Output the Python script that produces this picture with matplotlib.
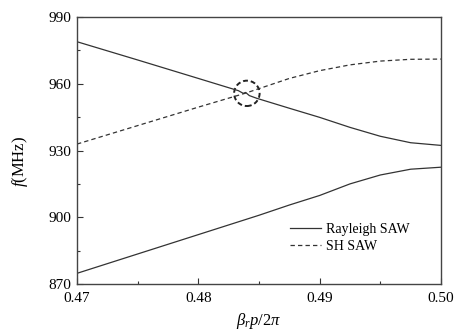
import matplotlib
matplotlib.use("Agg")
import matplotlib.pyplot as plt
from matplotlib.patches import Ellipse
from matplotlib.ticker import MultipleLocator

plt.rcParams['font.family'] = ['Liberation Serif', 'DejaVu Serif']
plt.rcParams['mathtext.fontset'] = 'custom'
plt.rcParams['mathtext.rm'] = 'Liberation Serif'
plt.rcParams['mathtext.it'] = 'Liberation Serif:italic'

# Rayleigh SAW, upper branch
ray_up_x = [0.470, 0.475, 0.480, 0.4833, 0.4835, 0.4837, 0.4839, 0.4842, 0.4848,
            0.4875, 0.490, 0.4925, 0.495, 0.4975, 0.500]
ray_up_f = [978.9, 970.7, 962.4, 956.9, 956.3, 955.7, 956.1, 954.7, 953.5,
            949.0, 944.9, 940.4, 936.4, 933.5, 932.3]
# Rayleigh SAW, lower branch
ray_lo_x = [0.470, 0.475, 0.480, 0.485, 0.4875, 0.490, 0.4925, 0.495, 0.4975, 0.500]
ray_lo_f = [874.8, 883.5, 892.2, 900.9, 905.5, 909.8, 915.0, 919.0, 921.6, 922.5]
# SH SAW
sh_x = [0.470, 0.475, 0.480, 0.4839, 0.4875, 0.490, 0.4925, 0.495, 0.4975, 0.500]
sh_f = [932.9, 941.2, 949.5, 955.8, 962.4, 965.9, 968.5, 970.2, 971.0, 971.1]

circle_center = (0.4840, 955.7)
circle_rx, circle_ry = 0.00105, 5.7

xticks = [0.47, 0.48, 0.49, 0.50]
xticklabels = ['0.47', '0.48', '0.49', '0.50']
yticks = [870, 900, 930, 960, 990]

fig = plt.figure(figsize=(4.57, 3.34), dpi=100)
ax = fig.add_axes([0.1685, 0.1497, 0.7965, 0.7993])

lc = '#333333'
ax.plot(ray_up_x, ray_up_f, color=lc, lw=0.9, label='Rayleigh SAW')
ax.plot(ray_lo_x, ray_lo_f, color=lc, lw=0.9)
ax.plot(sh_x, sh_f, color=lc, lw=0.9, ls=(0, (3.5, 2.5)), label='SH SAW')

ax.add_patch(Ellipse(circle_center, 2 * circle_rx, 2 * circle_ry, fill=False,
                     ec='#222222', lw=1.4, ls=(0, (2.5, 1.5))))

ax.set_xlim(0.47, 0.50)
ax.set_ylim(870, 990)
ax.set_xticks(xticks)
ax.set_xticklabels(xticklabels)
ax.set_yticks(yticks)
ax.xaxis.set_minor_locator(MultipleLocator(0.005))
ax.yaxis.set_minor_locator(MultipleLocator(15))
ax.tick_params(which='both', direction='in', top=False, right=False,
               labelsize=11, color='#333333', width=0.8)
ax.tick_params(axis='x', which='major', length=4, pad=6)
ax.tick_params(axis='y', which='major', length=4, pad=4)
ax.tick_params(which='minor', length=2.5)
for s in ax.spines.values():
    s.set_color('#444444')
    s.set_linewidth(1.0)

ax.set_xlabel(r'$\beta_{r}p/2\pi$', fontsize=12)
ax.set_ylabel(r'$f$(MHz)', fontsize=12)
ax.yaxis.set_label_coords(-0.13, 0.46)
ax.xaxis.set_label_coords(0.5, -0.1)

ax.legend(loc='upper left', bbox_to_anchor=(0.585, 0.23), frameon=False,
          fontsize=10, handlelength=2.2, handletextpad=0.4, labelspacing=0.3,
          borderaxespad=0, borderpad=0)

fig.savefig('out.png', dpi=100, facecolor='white')
